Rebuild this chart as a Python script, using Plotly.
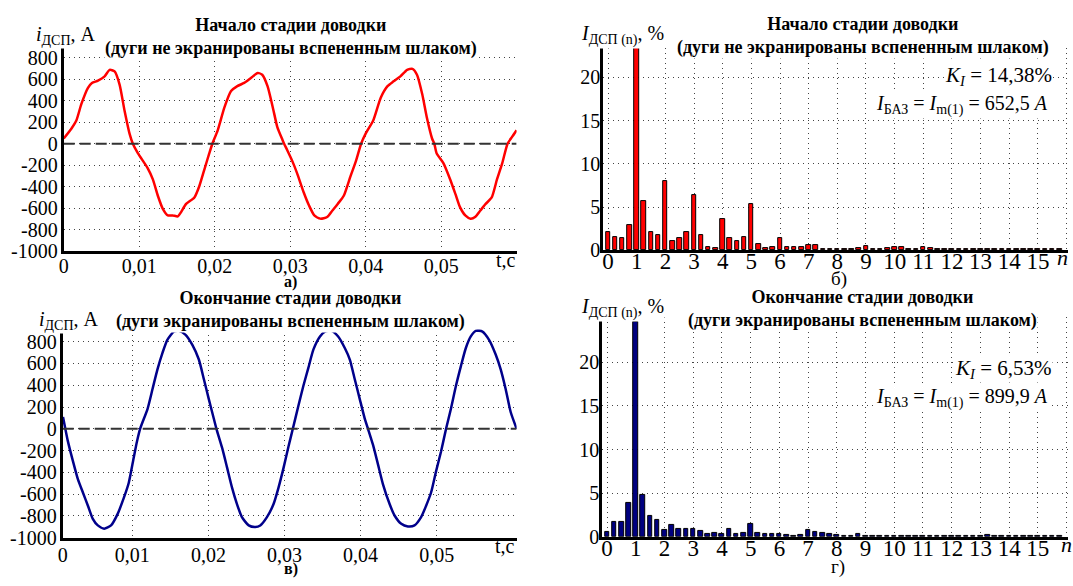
import plotly.graph_objects as go

W, H = 1073, 586

# ---------------- data ----------------
# a) start of refining stage, arc current (A)
t_start = [0.0, 0.00101, 0.00167, 0.00233, 0.00321, 0.00374, 0.00454, 0.00542, 0.00608, 0.00674,
           0.00740, 0.00806, 0.00872, 0.00916,
           0.00982, 0.01110, 0.01181, 0.01247, 0.01313, 0.01379, 0.01445, 0.01512, 0.01555, 0.01621,
           0.01731, 0.01797, 0.01863, 0.01929, 0.01969,
           0.02040, 0.02129, 0.02217, 0.02300, 0.02390, 0.02480, 0.02570, 0.02630, 0.02700, 0.02770,
           0.02830, 0.02900, 0.02920,
           0.02960, 0.03030, 0.03090, 0.03180, 0.03250, 0.03320, 0.03400, 0.03490, 0.03560, 0.03630,
           0.03710, 0.03800, 0.03870, 0.03940,
           0.04000, 0.04100, 0.04200, 0.04290, 0.04370, 0.04460, 0.04550, 0.04620, 0.04680, 0.04750,
           0.04810, 0.04880, 0.04910,
           0.04940, 0.05030, 0.05120, 0.05190, 0.05250, 0.05320, 0.05390, 0.05450, 0.05520, 0.05590,
           0.05670, 0.05740, 0.05810, 0.05880, 0.05940, 0.06000]
i_start = [49, 140, 216, 368, 520, 566, 587, 627, 688, 673,
           551, 307, 94, 0,
           -88, -225, -332, -484, -606, -667, -667, -676, -636, -560,
           -500, -393, -240, -88, 0,
           125, 338, 490, 536, 566, 612, 658, 642, 536, 338,
           155, 33, 0,
           -58, -164, -271, -454, -575, -667, -697, -682, -621, -560,
           -484, -301, -164, 0,
           94, 216, 429, 536, 581, 627, 688, 697, 642, 460,
           247, 49, 0,
           -88, -180, -332, -469, -590, -667, -697, -682, -621, -560,
           -500, -332, -180, 0, 64, 125]

# в) end of refining stage, arc current (A)
t_end = [0.00089, 0.00154, 0.00220, 0.00285, 0.00350, 0.00416, 0.00480, 0.00546, 0.00630, 0.00720,
         0.00807, 0.00890, 0.00953, 0.01017, 0.01060, 0.01102,
         0.01200, 0.01265, 0.01330, 0.01396, 0.01460, 0.01548, 0.01613, 0.01700, 0.01787, 0.01874,
         0.01940, 0.02004, 0.02070, 0.02105,
         0.02181, 0.02246, 0.02310, 0.02375, 0.02440, 0.02529, 0.02616, 0.02681, 0.02769, 0.02856,
         0.02921, 0.02987, 0.03052, 0.03109,
         0.03183, 0.03248, 0.03314, 0.03379, 0.03466, 0.03531, 0.03618, 0.03705, 0.03792, 0.03858,
         0.03923, 0.03988, 0.04054, 0.04097,
         0.04163, 0.04229, 0.04294, 0.04381, 0.04446, 0.04534, 0.04621, 0.04708, 0.04795, 0.04861,
         0.04926, 0.04992, 0.05057, 0.05123,
         0.05187, 0.05253, 0.05318, 0.05383, 0.05448, 0.05514, 0.05601, 0.05688, 0.05775, 0.05841,
         0.05906, 0.05972, 0.06050]
i_end = [109, -118, -299, -465, -585, -706, -827, -887, -917, -887,
         -781, -630, -495, -268, -118, 0,
         184, 365, 546, 697, 817, 893, 899, 863, 772, 636,
         455, 275, 94, 0,
         -178, -359, -540, -691, -811, -887, -902, -887, -811, -691,
         -540, -359, -163, 0,
         214, 395, 561, 727, 848, 893, 899, 848, 742, 636,
         455, 275, 94, 0,
         -148, -329, -510, -691, -796, -872, -896, -887, -811, -706,
         -585, -389, -208, 0,
         184, 395, 576, 742, 848, 899, 893, 817, 682, 546,
         365, 154, 0]

# harmonic number (including interharmonics, step 1/4)
n_harm = [0, 0.25, 0.5, 0.75, 1, 1.25, 1.5, 1.75, 2, 2.25, 2.5, 2.75, 3, 3.25, 3.5, 3.75,
          4, 4.25, 4.5, 4.75, 5, 5.25, 5.5, 5.75, 6, 6.25, 6.5, 6.75, 7, 7.25, 7.5, 7.75,
          8, 8.25, 8.5, 8.75, 9, 9.25, 9.5, 9.75, 10, 10.25, 10.5, 10.75, 11, 11.25, 11.5, 11.75,
          12, 12.25, 12.5, 12.75, 13, 13.25, 13.5, 13.75, 14, 14.25, 14.5, 14.75, 15, 15.25, 15.5, 15.75]

# б) harmonic spectrum, start of stage (%)
harm_start = [2.05, 1.5, 1.4, 2.9, 23.4, 5.65, 2.05, 1.7, 8.0, 1.0, 1.4, 2.05, 6.4, 1.8, 0.4, 0.2,
              3.6, 1.4, 1.0, 1.55, 5.3, 0.72, 0.2, 0.4, 1.4, 0.4, 0.35, 0.4, 0.65, 0.65, 0.15, 0.12,
              0.12, 0.12, 0.15, 0.3, 0.45, 0.12, 0.12, 0.25, 0.4, 0.35, 0.1, 0.1, 0.4, 0.25, 0.1, 0.1,
              0.12, 0.1, 0.1, 0.12, 0.12, 0.1, 0.1, 0.12, 0.1, 0.12, 0.1, 0.1, 0.12, 0.1, 0.1, 0.1]

# г) harmonic spectrum, end of stage (%)
harm_end = [0.5, 1.68, 1.68, 3.9, 24.6, 4.77, 2.44, 1.98, 0.73, 1.41, 0.92, 0.84, 0.84, 0.61, 0.3, 0.38,
            0.27, 0.92, 0.3, 0.38, 1.49, 0.38, 0.3, 0.3, 0.27, 0.2, 0.12, 0.2, 0.75, 0.52, 0.38, 0.27,
            0.19, 0.1, 0.1, 0.3, 0.12, 0.1, 0.1, 0.1, 0.1, 0.1, 0.1, 0.1, 0.1, 0.1, 0.1, 0.1,
            0.1, 0.1, 0.1, 0.1, 0.1, 0.25, 0.1, 0.1, 0.1, 0.1, 0.1, 0.1, 0.1, 0.1, 0.1, 0.1]

curve_ticks = [-1000, -800, -600, -400, -200, 0, 200, 400, 600, 800, 1000]
curve_ticktext = ["-1000", "-800", "-600", "-400", "-200", "0", "200", "400", "600", "800", ""]
time_ticks = [0, 0.01, 0.02, 0.03, 0.04, 0.05]
time_ticktext = ["0", "0,01", "0,02", "0,03", "0,04", "0,05"]
harm_ticks = list(range(0, 17))
harm_ticktext = [str(k) for k in range(0, 16)] + [""]
pct_ticks = [0, 5, 10, 15, 20]

# ---------------- styling helpers ----------------
SERIF = "Liberation Serif"


def px(x):
    return x / W


def py(y):
    return 1 - y / H


GRID = dict(showgrid=True, gridcolor="#444444", gridwidth=1, griddash="1px,4px",
            zeroline=False, showline=True, linecolor="black", linewidth=3,
            ticks="", tickfont=dict(family=SERIF, size=20, color="black"))

fig = go.Figure()

# a) curve
fig.add_trace(go.Scatter(x=t_start, y=i_start, mode="lines", xaxis="x", yaxis="y",
                         line=dict(color="#ff0000", width=2.5, shape="spline", smoothing=0.6),
                         showlegend=False))
# в) curve
fig.add_trace(go.Scatter(x=t_end, y=i_end, mode="lines", xaxis="x3", yaxis="y3",
                         line=dict(color="#00008b", width=2.5, shape="spline", smoothing=0.6),
                         showlegend=False))
# б) bars
fig.add_trace(go.Bar(x=n_harm, y=harm_start, xaxis="x2", yaxis="y2", width=0.16,
                     marker=dict(color="#ff0000", line=dict(color="black", width=1)),
                     showlegend=False))
# г) bars
fig.add_trace(go.Bar(x=n_harm, y=harm_end, xaxis="x4", yaxis="y4", width=0.16,
                     marker=dict(color="#000080", line=dict(color="black", width=1)),
                     showlegend=False))

# zero dashed lines on curve plots
for xa, ya, x0, x1 in (("x", "y", 0, 0.06), ("x3", "y3", 0.00085, 0.0605)):
    fig.add_shape(type="line", xref=xa, yref=ya, x0=x0, x1=x1, y0=0, y1=0,
                  line=dict(color="#333333", width=2, dash="11px,5px"), layer="above")

BAR_X_FONT = dict(family=SERIF, size=23, color="black")
BAR_Y_FONT = dict(family=SERIF, size=20, color="black")

layout = dict(
    width=W, height=H, margin=dict(l=0, r=0, t=0, b=0),
    paper_bgcolor="white", plot_bgcolor="white", bargap=0,
    xaxis=dict(GRID, domain=[px(59), px(514)], range=[0, 0.06], anchor="y",
               tickvals=time_ticks, ticktext=time_ticktext, ticklabelstandoff=-5),
    yaxis=dict(GRID, domain=[py(256), py(37)], range=[-1000, 1000], anchor="x",
               tickvals=curve_ticks, ticktext=curve_ticktext, ticklabelstandoff=-1),
    xaxis2=dict(GRID, domain=[px(601), px(1068)], range=[-0.17, 16.05], anchor="y2",
                tickvals=harm_ticks, ticktext=harm_ticktext, tickfont=BAR_X_FONT,
                ticklabelstandoff=-12),
    yaxis2=dict(GRID, domain=[py(255), py(49)], range=[0, 23.4], anchor="x2",
                tickvals=pct_ticks, tickfont=BAR_Y_FONT, ticklabelstandoff=-4),
    xaxis3=dict(GRID, domain=[px(58), px(514)], range=[0.00085, 0.0605], anchor="y3",
                tickvals=[0.00085] + time_ticks[1:], ticktext=time_ticktext, ticklabelstandoff=-3),
    yaxis3=dict(GRID, domain=[py(548), py(326)], range=[-1000, 1000], anchor="x3",
                tickvals=curve_ticks, ticktext=curve_ticktext, ticklabelstandoff=-1),
    xaxis4=dict(GRID, domain=[px(600), px(1068)], range=[-0.17, 16.05], anchor="y4",
                tickvals=harm_ticks, ticktext=harm_ticktext, tickfont=BAR_X_FONT,
                ticklabelstandoff=-11),
    yaxis4=dict(GRID, domain=[py(547), py(323)], range=[0, 25.2], anchor="x4",
                tickvals=pct_ticks, tickfont=BAR_Y_FONT, ticklabelstandoff=-4),
)
fig.update_layout(**layout)


def note(text, x, y, size=18, bold=False, bg="white", xanchor="center"):
    if bold:
        text = "<b>" + text + "</b>"
    fig.add_annotation(text=text, xref="paper", yref="paper", x=px(x), y=py(y),
                       xanchor=xanchor, yanchor="middle", showarrow=False,
                       font=dict(family=SERIF, size=size, color="black"),
                       bgcolor=bg, borderpad=0, align="center")


# titles
note("Начало стадии доводки<br>(дуги не экранированы вспененным шлаком)", 287, 38, size=18, bold=True)
note("Начало стадии доводки<br>(дуги не экранированы вспененным шлаком)", 862, 37, size=18, bold=True)
note("Окончание стадии доводки<br>(дуги экранированы вспененным шлаком)", 287, 316, size=18, bold=True)
note("Окончание стадии доводки<br>(дуги экранированы вспененным шлаком)", 862, 315, size=18, bold=True)

# axis titles
note("<i>i</i><sub>ДСП</sub>, А", 30, 36, size=20, xanchor="left")
note("<i>i</i><sub>ДСП</sub>, А", 33, 327, size=20, xanchor="left")
note("<i>I</i><sub>ДСП (n)</sub>, %", 578, 36, size=20, xanchor="left")
note("<i>I</i><sub>ДСП (n)</sub>, %", 578, 314, size=20, xanchor="left")
note("t,c", 503, 265, size=20, bg=None)
note("t,c", 502, 556, size=20, bg=None)
note("<i>n</i>", 1062, 262, size=22, bg=None)
note("<i>n</i>", 1066, 555, size=22, bg=None)

# panel letters
note("а)", 287, 287, size=16, bold=True, bg=None)
note("б)", 838, 284, size=19, bg=None)
note("в)", 287, 580, size=16, bold=True, bg=None)
note("г)", 837, 578, size=19, bg=None)

# parameters
note("<i>K<sub>I</sub></i> = 14,38%", 1053, 77, size=21, xanchor="right")
note("<i>I</i><sub>БАЗ</sub> = <i>I</i><sub>m(1)</sub> = 652,5 <i>A</i>", 1049, 107, size=20, xanchor="right")
note("<i>K<sub>I</sub></i> = 6,53%", 1053, 376, size=21, xanchor="right")
note("<i>I</i><sub>БАЗ</sub> = <i>I</i><sub>m(1)</sub> = 899,9 <i>A</i>", 1049, 406, size=20, xanchor="right")

fig.write_html("out.html")
